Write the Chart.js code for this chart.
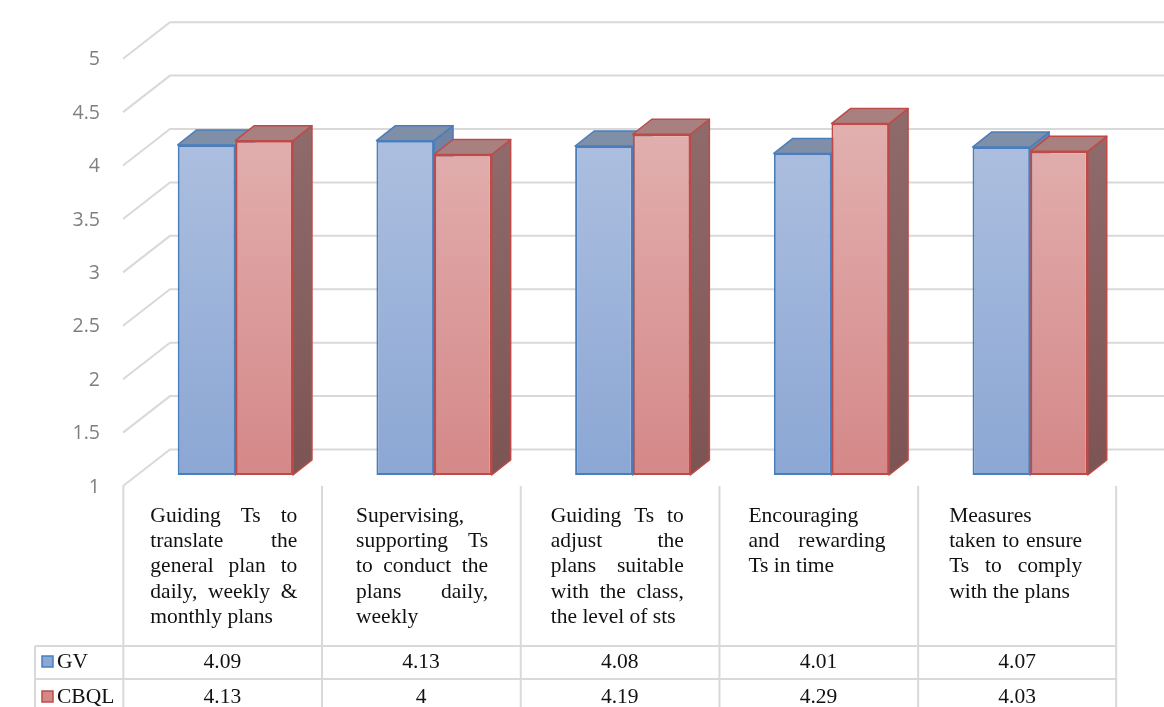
<!DOCTYPE html>
<html>
<head>
<meta charset="utf-8">
<script src="https://cdn.jsdelivr.net/npm/chart.js@4"></script>
<style>
  body { margin: 0; background: #fff; }
  canvas { display: block; }
</style>
</head>
<body>
<canvas id="myChart" width="1164" height="707"></canvas>
<script>
// category texts, one entry per line as in the table
const categoryLines = [
  ["Guiding Ts to", "translate the", "general plan to", "daily, weekly &", "monthly plans"],
  ["Supervising,", "supporting Ts", "to conduct the", "plans daily,", "weekly"],
  ["Guiding Ts to", "adjust the", "plans suitable", "with the class,", "the level of sts"],
  ["Encouraging", "and rewarding", "Ts in time"],
  ["Measures", "taken to ensure", "Ts to comply", "with the plans"],
];
const seriesNames = ["GV", "CBQL"];
const gvValues = [4.09, 4.13, 4.08, 4.01, 4.07];
const cbqlValues = [4.13, 4.0, 4.19, 4.29, 4.03];
const yMin = 1, yMax = 5, yStep = 0.5;

// look
const GRID = "#d9d9d9";
const DEPTH = { dx: 19, dy: -15 };
const WALL_FRONT = { dx: -13, dy: 11 };
const WALL_BACK = { dx: 34, dy: -25.5 };
const SERIF = '"Liberation Serif", "Times New Roman", serif';
const styles = [
  { border: "#4a7ebb", top: "#7f8fa8", side: ["#7083a3", "#60728f"], front: ["#adbfdf", "#8ba7d4"] },
  { border: "#be4b48", top: "#a88080", side: ["#8f6a6a", "#7d5454"], front: ["#e1afae", "#d58888"] },
];
// table text box per column: left inset, width
const textInset = [27, 34, 30, 29, 31];
const textWidth = [147, 132, 133, 137, 133];

function frontGradient(c, s) {
  const { chart } = c;
  const area = chart.chartArea;
  if (!area) return s.front[1];
  const g = chart.ctx.createLinearGradient(0, 130, 0, area.bottom);
  g.addColorStop(0, s.front[0]);
  g.addColorStop(1, s.front[1]);
  return g;
}

function poly(ctx, pts, fill, stroke) {
  ctx.beginPath();
  ctx.moveTo(pts[0][0], pts[0][1]);
  for (let k = 1; k < pts.length; k++) ctx.lineTo(pts[k][0], pts[k][1]);
  ctx.closePath();
  ctx.fillStyle = fill;
  ctx.fill();
  ctx.strokeStyle = stroke;
  ctx.stroke();
}

const threeD = {
  id: "threeD",
  beforeDatasetsDraw(chart) {
    const { ctx, chartArea } = chart;
    const ys = chart.scales.y;
    ctx.save();
    // walls
    ctx.strokeStyle = GRID;
    ctx.lineWidth = 2;
    for (let v = yMin; v <= yMax + 1e-9; v += yStep) {
      const py = ys.getPixelForValue(v);
      ctx.beginPath();
      ctx.moveTo(chartArea.left + WALL_FRONT.dx, py + WALL_FRONT.dy);
      ctx.lineTo(chartArea.left + WALL_BACK.dx, py + WALL_BACK.dy);
      ctx.lineTo(chart.width, py + WALL_BACK.dy);
      ctx.stroke();
    }
    // side and top faces, fronts are drawn by chart.js afterwards
    ctx.lineWidth = 1.5;
    ctx.lineJoin = "round";
    const metas = chart.getSortedVisibleDatasetMetas();
    for (let i = 0; i < chart.data.labels.length; i++) {
      metas.forEach((meta, d) => {
        const s = styles[d];
        const p = meta.data[i].getProps(["x", "y", "base", "width"], true);
        const l = p.x - p.width / 2, r = p.x + p.width / 2;
        const b = Math.min(p.base, chartArea.bottom);
        const sg = ctx.createLinearGradient(0, p.y, 0, b);
        sg.addColorStop(0, s.side[0]);
        sg.addColorStop(1, s.side[1]);
        poly(ctx, [[r, p.y], [r + DEPTH.dx, p.y + DEPTH.dy], [r + DEPTH.dx, b + DEPTH.dy], [r, b]], sg, s.border);
        poly(ctx, [[l, p.y], [r, p.y], [r + DEPTH.dx, p.y + DEPTH.dy], [l + DEPTH.dx, p.y + DEPTH.dy]], s.top, s.border);
      });
    }
    ctx.restore();
  },
  afterDraw(chart) {
    const { ctx } = chart;
    const xs = chart.scales.x;
    const n = chart.data.labels.length;
    const colW = 198;
    const shift = -13;
    const tTop = 486, r1 = 646, r2 = 679, tBottom = 720, hdrLeft = 35;
    const cols = [];
    for (let i = 0; i < n; i++) cols.push(xs.getPixelForValue(i) + shift - colW / 2);
    const tRight = cols[n - 1] + colW;
    ctx.save();
    ctx.strokeStyle = GRID;
    ctx.lineWidth = 2;
    ctx.beginPath();
    for (let i = 0; i <= n; i++) {
      const x = i < n ? cols[i] : tRight;
      ctx.moveTo(x, tTop);
      ctx.lineTo(x, tBottom);
    }
    ctx.moveTo(hdrLeft, r1); ctx.lineTo(tRight, r1);
    ctx.moveTo(hdrLeft, r2); ctx.lineTo(tRight, r2);
    ctx.moveTo(hdrLeft, r1); ctx.lineTo(hdrLeft, tBottom);
    ctx.stroke();

    ctx.fillStyle = "#111";
    ctx.font = "21.5px " + SERIF;
    ctx.textBaseline = "middle";
    // category texts, justified like the source
    categoryLines.forEach((lines, i) => {
      const x0 = cols[i] + textInset[i];
      const w = textWidth[i];
      lines.forEach((line, k) => {
        const y = tTop + 30 + k * 25.3;
        const words = line.split(" ");
        ctx.textAlign = "left";
        if (k === lines.length - 1 || words.length === 1) {
          ctx.fillText(line, x0, y);
          return;
        }
        const sum = words.reduce((a, t) => a + ctx.measureText(t).width, 0);
        const gap = (w - sum) / (words.length - 1);
        if (gap < 3) {
          ctx.fillText(line, x0, y, w);
          return;
        }
        let x = x0;
        words.forEach(t => { ctx.fillText(t, x, y); x += ctx.measureText(t).width + gap; });
      });
    });
    // value rows
    const rows = [gvValues, cbqlValues];
    const rowY = [662, 697];
    rows.forEach((vals, d) => {
      ctx.textAlign = "center";
      ctx.fillStyle = "#111";
      vals.forEach((v, i) => ctx.fillText(String(v), cols[i] + colW / 2, rowY[d]));
      // legend key
      const s = styles[d];
      ctx.fillStyle = s.front[1];
      ctx.fillRect(42, rowY[d] - 6, 11, 11);
      ctx.strokeStyle = s.border;
      ctx.lineWidth = 1.5;
      ctx.strokeRect(42, rowY[d] - 6, 11, 11);
      ctx.fillStyle = "#111";
      ctx.textAlign = "left";
      ctx.fillText(seriesNames[d], 57, rowY[d]);
    });
    ctx.restore();
  },
};

const ctx = document.getElementById("myChart");

new Chart(ctx, {
  type: "bar",
  plugins: [threeD],
  data: {
    labels: categoryLines.map(l => l.join(" ")),
    datasets: [
      { label: seriesNames[0], data: gvValues },
      { label: seriesNames[1], data: cbqlValues },
    ].map((ds, d) => ({
      ...ds,
      base: yMin,
      backgroundColor: c => frontGradient(c, styles[d]),
      borderColor: styles[d].border,
      borderWidth: 2,
      borderSkipped: false,
      categoryPercentage: 0.58,
      barPercentage: 1,
    })),
  },
  options: {
    responsive: false,
    animation: false,
    layout: { padding: { top: 45, right: 34.5, bottom: 232, left: 0 } },
    scales: {
      x: { display: false },
      y: {
        min: yMin,
        max: yMax,
        afterFit: scale => { scale.width = 136; },
        grid: { display: false, drawTicks: false },
        border: { display: false },
        ticks: {
          stepSize: yStep,
          padding: 36,
          labelOffset: 12,
          color: "#7f7f7f",
          font: { family: '"Open Sans", sans-serif', size: 19.5 },
          callback: v => String(v),
        },
      },
    },
    plugins: {
      legend: { display: false },
      tooltip: { enabled: false },
    },
  },
});
</script>
</body>
</html>
